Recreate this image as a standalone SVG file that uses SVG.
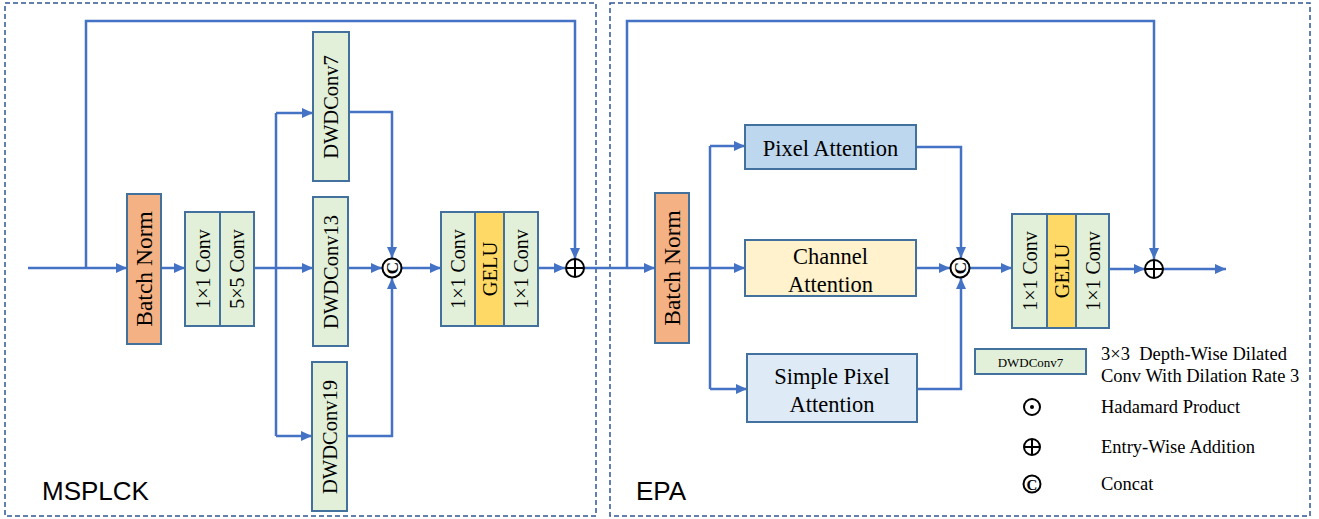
<svg xmlns="http://www.w3.org/2000/svg" width="1319" height="519" viewBox="0 0 1319 519">
<style>
.frame{fill:none;stroke:#2F5597;stroke-width:1.5;stroke-dasharray:5,3}
.box{stroke:#41719C;stroke-width:2}
.g{fill:#E2F0D9}
.o{fill:#F4B183}
.y{fill:#FFD966}
.pa{fill:#BDD7EE}
.ca{fill:#FFF2CC}
.sp{fill:#DEEBF7}
.t{font-family:"Liberation Serif","Times New Roman",serif;fill:#000;text-anchor:middle;dominant-baseline:central}
.lg{font-family:"Liberation Serif","Times New Roman",serif;fill:#000;font-size:18.5px;dominant-baseline:central;white-space:pre}
.title{font-family:"Liberation Sans",Arial,sans-serif;font-size:26px;fill:#000}
.c{fill:none;stroke:#4472C4;stroke-width:2.5}
.a{marker-end:url(#arr)}
.sym{fill:#fff;stroke:#000;stroke-width:2}
</style>
<defs>
<marker id="arr" markerUnits="userSpaceOnUse" markerWidth="11" markerHeight="10" refX="11" refY="5" orient="auto">
<path d="M0,0 L11,5 L0,10 z" fill="#4472C4"/>
</marker>
</defs>

<rect class="frame" x="5" y="3" width="591" height="513"/>
<rect class="frame" x="610" y="3" width="700" height="513"/>
<text class="title" x="42" y="500">MSPLCK</text>
<text class="title" x="636" y="500">EPA</text>

<g id="connectors">
<path class="c a" d="M28,268 H127"/>
<path class="c a" d="M86,268 V21 H575 V259"/>
<path class="c a" d="M161,268 H185"/>
<path class="c a" d="M254,268 H313"/>
<path class="c" d="M276,113 V436"/>
<path class="c a" d="M276,113 H313"/>
<path class="c a" d="M276,436 H312"/>
<path class="c a" d="M349,112 H392 V258"/>
<path class="c a" d="M348,268 H382"/>
<path class="c a" d="M347,436 H392 V278"/>
<path class="c a" d="M402,268 H441"/>
<path class="c a" d="M538,268 H565"/>
<path class="c a" d="M584,268 H655"/>
<path class="c a" d="M627,268 V21 H1154 V259"/>
<path class="c a" d="M689,268 H745"/>
<path class="c" d="M710,146 V389"/>
<path class="c a" d="M710,146 H745"/>
<path class="c a" d="M710,389 H747"/>
<path class="c a" d="M916,147 H961 V258"/>
<path class="c a" d="M916,268 H950"/>
<path class="c a" d="M917,389 H961 V278"/>
<path class="c a" d="M970,268 H1012"/>
<path class="c a" d="M1109,269 H1145"/>
<path class="c a" d="M1163,269 H1226"/>
</g>

<g id="bn1"><rect class="box o" x="127" y="194" width="34" height="150"/><text class="t" font-size="23.5" transform="translate(144,269) rotate(-90)">Batch Norm</text></g>
<g id="conv1x1_a"><rect class="box g" x="185" y="212" width="35" height="114"/><text class="t" font-size="20" transform="translate(202.5,269) rotate(-90)">1×1 Conv</text></g>
<g id="conv5x5"><rect class="box g" x="220" y="212" width="34" height="114"/><text class="t" font-size="20" transform="translate(237,269) rotate(-90)">5×5 Conv</text></g>
<g id="dwd7"><rect class="box g" x="313" y="32" width="36" height="149"/><text class="t" font-size="20.5" transform="translate(331,107) rotate(-90)">DWDConv7</text></g>
<g id="dwd13"><rect class="box g" x="313" y="197" width="35" height="149"/><text class="t" font-size="20.5" transform="translate(330.5,272) rotate(-90)">DWDConv13</text></g>
<g id="dwd19"><rect class="box g" x="312" y="362" width="35" height="149"/><text class="t" font-size="20.5" transform="translate(329.5,437) rotate(-90)">DWDConv19</text></g>
<g id="concat1"><circle class="sym" cx="392" cy="268" r="9.5" stroke-width="3"/><text class="t" font-size="17" font-weight="bold" transform="translate(392,268) rotate(-90)">C</text></g>
<g id="mlp1">
<rect class="box g" x="441" y="212" width="34" height="114"/>
<rect class="box y" x="475" y="212" width="29" height="114"/>
<rect class="box g" x="504" y="212" width="34" height="114"/>
<text class="t" font-size="20" transform="translate(458,269) rotate(-90)">1×1 Conv</text>
<text class="t" font-size="20.5" transform="translate(489.5,269) rotate(-90)">GELU</text>
<text class="t" font-size="20" transform="translate(521,269) rotate(-90)">1×1 Conv</text>
</g>
<g id="add1"><circle class="sym" cx="575" cy="268" r="9"/><path d="M566,268 H584 M575,259 V277" stroke="#000" stroke-width="2"/></g>

<g id="bn2"><rect class="box o" x="655" y="193" width="34" height="150"/><text class="t" font-size="23.5" transform="translate(672,268) rotate(-90)">Batch Norm</text></g>
<g id="pixel_attention"><rect class="box pa" x="745" y="125" width="171" height="44"/><text class="t" font-size="22.5" x="830.5" y="148">Pixel Attention</text></g>
<g id="channel_attention"><rect class="box ca" x="745" y="240" width="171" height="56"/><text class="t" font-size="22.5" x="830.5" y="256">Channel</text><text class="t" font-size="22.5" x="830.5" y="284">Attention</text></g>
<g id="simple_pixel_attention"><rect class="box sp" x="747" y="354" width="170" height="68"/><text class="t" font-size="22.5" x="832" y="376">Simple Pixel</text><text class="t" font-size="22.5" x="832" y="404">Attention</text></g>
<g id="concat2"><circle class="sym" cx="960" cy="268" r="9.5" stroke-width="3"/><text class="t" font-size="17" font-weight="bold" transform="translate(960,268) rotate(-90)">C</text></g>
<g id="mlp2">
<rect class="box g" x="1012" y="214" width="35" height="114"/>
<rect class="box y" x="1047" y="214" width="29" height="114"/>
<rect class="box g" x="1076" y="214" width="33" height="114"/>
<text class="t" font-size="20" transform="translate(1029.5,271) rotate(-90)">1×1 Conv</text>
<text class="t" font-size="20.5" transform="translate(1061.5,271) rotate(-90)">GELU</text>
<text class="t" font-size="20" transform="translate(1092.5,271) rotate(-90)">1×1 Conv</text>
</g>
<g id="add2"><circle class="sym" cx="1154" cy="269" r="9"/><path d="M1145,269 H1163 M1154,260 V278" stroke="#000" stroke-width="2"/></g>

<g id="legend">
<rect class="box g" x="975" y="349" width="111" height="25"/>
<text class="t" font-size="13" x="1030.5" y="362">DWDConv7</text>
<text class="lg" x="1101" y="354">3×3  Depth-Wise Dilated</text>
<text class="lg" x="1101" y="376">Conv With Dilation Rate 3</text>
<circle class="sym" cx="1032" cy="407" r="8"/><circle cx="1032" cy="407" r="2" fill="#000"/>
<text class="lg" x="1101" y="407">Hadamard Product</text>
<circle class="sym" cx="1032" cy="447" r="8"/><path d="M1024,447 H1040 M1032,439 V455" stroke="#000" stroke-width="2"/>
<text class="lg" x="1101" y="447">Entry-Wise Addition</text>
<circle class="sym" cx="1032" cy="484" r="8.5" stroke-width="2.8"/><text class="t" font-size="15" font-weight="bold" x="1032" y="484.5">C</text>
<text class="lg" x="1101" y="484">Concat</text>
</g>
</svg>
